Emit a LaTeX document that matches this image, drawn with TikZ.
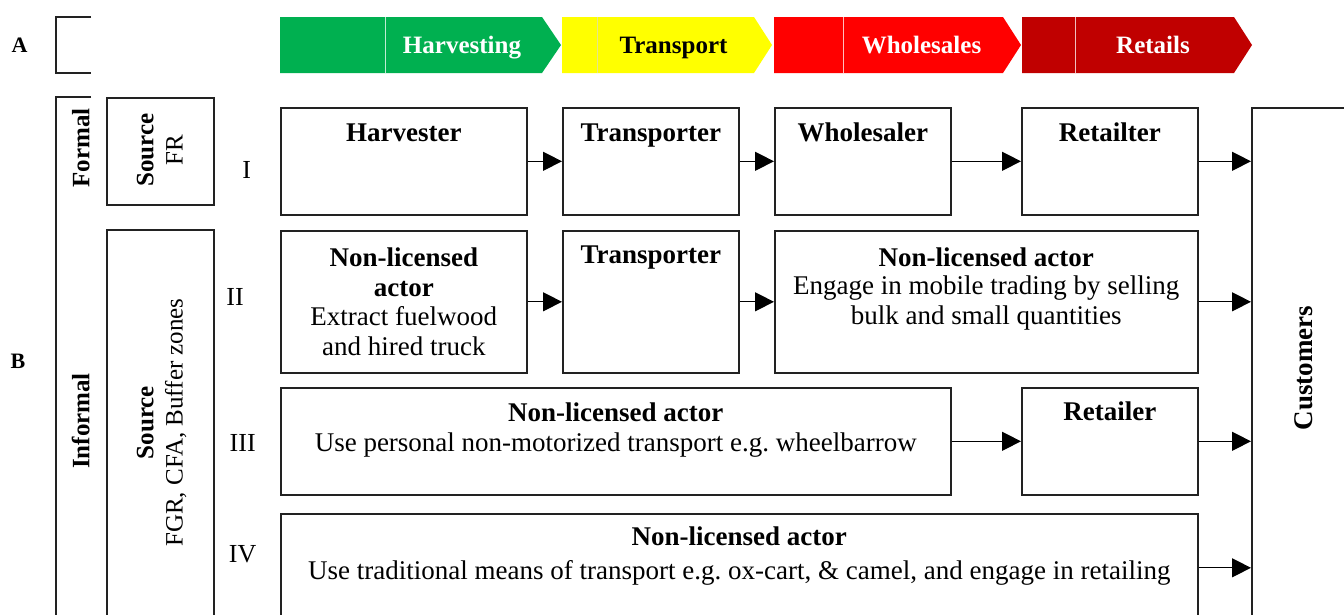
\documentclass[tikz,border=0pt]{standalone}
\usepackage{fontspec}
\setmainfont{Liberation Serif}
\usetikzlibrary{arrows.meta}
\definecolor{cgreen}{HTML}{00B050}
\definecolor{cyellow}{HTML}{FFFF00}
\definecolor{cred}{HTML}{FF0000}
\definecolor{cdred}{HTML}{C00000}
\definecolor{edge}{HTML}{222222}
\begin{document}
\begin{tikzpicture}[x=1pt,y=-1pt,
  box/.style={draw=edge,line width=1.6pt,rectangle,anchor=north west,inner sep=0pt},
  arr/.style={draw=black,line width=1.2pt,-{Triangle[length=19pt,width=19pt]}},
  body/.style={font=\fontsize{27pt}{30pt}\selectfont,align=center,inner sep=0pt,anchor=base},
  head/.style={body,font=\fontsize{27pt}{30pt}\selectfont\bfseries},
  roman/.style={font=\fontsize{26pt}{30pt}\selectfont,inner sep=0pt,anchor=base},
  side/.style={font=\fontsize{25pt}{29pt}\selectfont,inner sep=0pt,anchor=base,rotate=90},
  sideb/.style={side,font=\fontsize{25pt}{29pt}\selectfont\bfseries},
  chev/.style={font=\fontsize{25pt}{29pt}\selectfont\bfseries,inner sep=0pt,anchor=base},
  letter/.style={font=\fontsize{22pt}{26pt}\selectfont\bfseries,inner sep=0pt,anchor=base},
  divider/.style={line width=0.8pt}
]
\useasboundingbox (0,0) rectangle (1344,614);
\fill[white] (0,0) rectangle (1344,614);
\clip (0,0) rectangle (1344,614);

% ---- A : chevrons ----
\node[letter] (lA) at (19.5,52) {A};
\draw[edge,line width=1.6pt] (91,17) -- (56,17) -- (56,73) -- (91,73);

\fill[cgreen] (280,17) -- (542,17) -- (561,45) -- (542,73) -- (280,73) -- cycle;
\draw[divider,white!75!cgreen] (385,17) -- (385,73);
\node[chev,white] (cH) at (462,53) {Harvesting};

\fill[cyellow] (562,17) -- (754,17) -- (772,45) -- (754,73) -- (562,73) -- cycle;
\draw[divider,white!60!cyellow!90!black] (597,17) -- (597,73);
\node[chev,black] (cT) at (673.5,53) {Transport};

\fill[cred] (774,17) -- (1003,17) -- (1021,45) -- (1003,73) -- (774,73) -- cycle;
\draw[divider,white!75!cred] (843,17) -- (843,73);
\node[chev,white] (cW) at (921.5,53) {Wholesales};

\fill[cdred] (1022,17) -- (1234,17) -- (1252,45) -- (1234,73) -- (1022,73) -- cycle;
\draw[divider,white!75!cdred] (1075,17) -- (1075,73);
\node[chev,white] (cR) at (1153,53) {Retails};

% ---- B : left frame ----
\node[letter] (lB) at (18,368) {B};
\draw[edge,line width=1.6pt] (91,97) -- (56,97) -- (56,700);
\node[sideb] (fFormal) at (89.3,148) {Formal};
\node[sideb] (fInformal) at (89.3,421) {Informal};

\node[box,minimum width=107pt,minimum height=107pt] (sFR) at (106,97) {};
\node[sideb] (sFRa) at (153.3,150) {Source};
\node[side] (sFRb) at (182.7,150) {FR};

\node[box,minimum width=107pt,minimum height=450pt] (sFGR) at (106,229) {};
\node[sideb] (sFGRa) at (153.3,422.5) {Source};
\node[side] (sFGRb) at (182.7,422.5) {FGR, CFA, Buffer zones};

\node[roman] (nI) at (246.7,178) {I};
\node[roman] (nII) at (235,305) {II};
\node[roman] (nIII) at (242.7,451.7) {III};
\node[roman] (nIV) at (242.7,562.7) {IV};

% ---- customers ----
\node[box,minimum width=200pt,minimum height=600pt] (cust) at (1251,107) {};
\node[head,rotate=90] (custt) at (1312,368) {Customers};

% ---- row I ----
\node[box,minimum width=246pt,minimum height=107pt] (h1) at (280,107) {};
\node[box,minimum width=176pt,minimum height=107pt] (t1) at (562,107) {};
\node[box,minimum width=176pt,minimum height=107pt] (w1) at (774,107) {};
\node[box,minimum width=176pt,minimum height=107pt] (r1) at (1021,107) {};
\node[head] (h1t) at ([yshift=-34.7pt]h1.north) {Harvester};
\node[head] (t1t) at ([yshift=-34.7pt]t1.north) {Transporter};
\node[head] (w1t) at ([yshift=-34.7pt]w1.north) {Wholesaler};
\node[head] (r1t) at ([yshift=-34.7pt]r1.north) {Retailter};
\draw[arr] (h1.east) -- (t1.west);
\draw[arr] (t1.east) -- (w1.west);
\draw[arr] (w1.east) -- (r1.west);
\draw[arr] (r1.east) -- (r1.east -| cust.west);

% ---- row II ----
\node[box,minimum width=246pt,minimum height=142pt] (h2) at (280,230) {};
\node[box,minimum width=176pt,minimum height=142pt] (t2) at (562,230) {};
\node[box,minimum width=423pt,minimum height=142pt] (w2) at (774,230) {};
\node[head] (h2t) at ([yshift=-66pt]h2.north) {Non-licensed\\actor};
\node[body] (h2b) at ([yshift=-125pt]h2.north) {Extract fuelwood\\and hired truck};
\node[head] (t2t) at ([yshift=-33pt]t2.north) {Transporter};
\node[head] (w2t) at ([yshift=-36pt]w2.north) {Non-licensed actor};
\node[body] (w2b) at ([yshift=-94pt]w2.north) {Engage in mobile trading by selling\\bulk and small quantities};
\draw[arr] (h2.east) -- (t2.west);
\draw[arr] (t2.east) -- (w2.west);
\draw[arr] (w2.east) -- (w2.east -| cust.west);

% ---- row III ----
\node[box,minimum width=670pt,minimum height=107pt] (h3) at (280,387) {};
\node[box,minimum width=176pt,minimum height=107pt] (r3) at (1021,387) {};
\node[head] (h3t) at ([yshift=-34pt]h3.north) {Non-licensed actor};
\node[body] (h3b) at ([yshift=-64.7pt]h3.north) {Use personal non-motorized transport e.g.\ wheelbarrow};
\node[head] (r3t) at ([yshift=-33pt]r3.north) {Retailer};
\draw[arr] (h3.east) -- (r3.west);
\draw[arr] (r3.east) -- (r3.east -| cust.west);

% ---- row IV ----
\node[box,minimum width=917pt,minimum height=108pt] (h4) at (280,513) {};
\node[head] (h4t) at ([yshift=-32.7pt]h4.north) {Non-licensed actor};
\node[body] (h4b) at ([yshift=-66pt]h4.north) {Use traditional means of transport e.g.\ ox-cart, \& camel, and engage in retailing};
\draw[arr] (h4.east) -- (h4.east -| cust.west);
\end{tikzpicture}
\end{document}
